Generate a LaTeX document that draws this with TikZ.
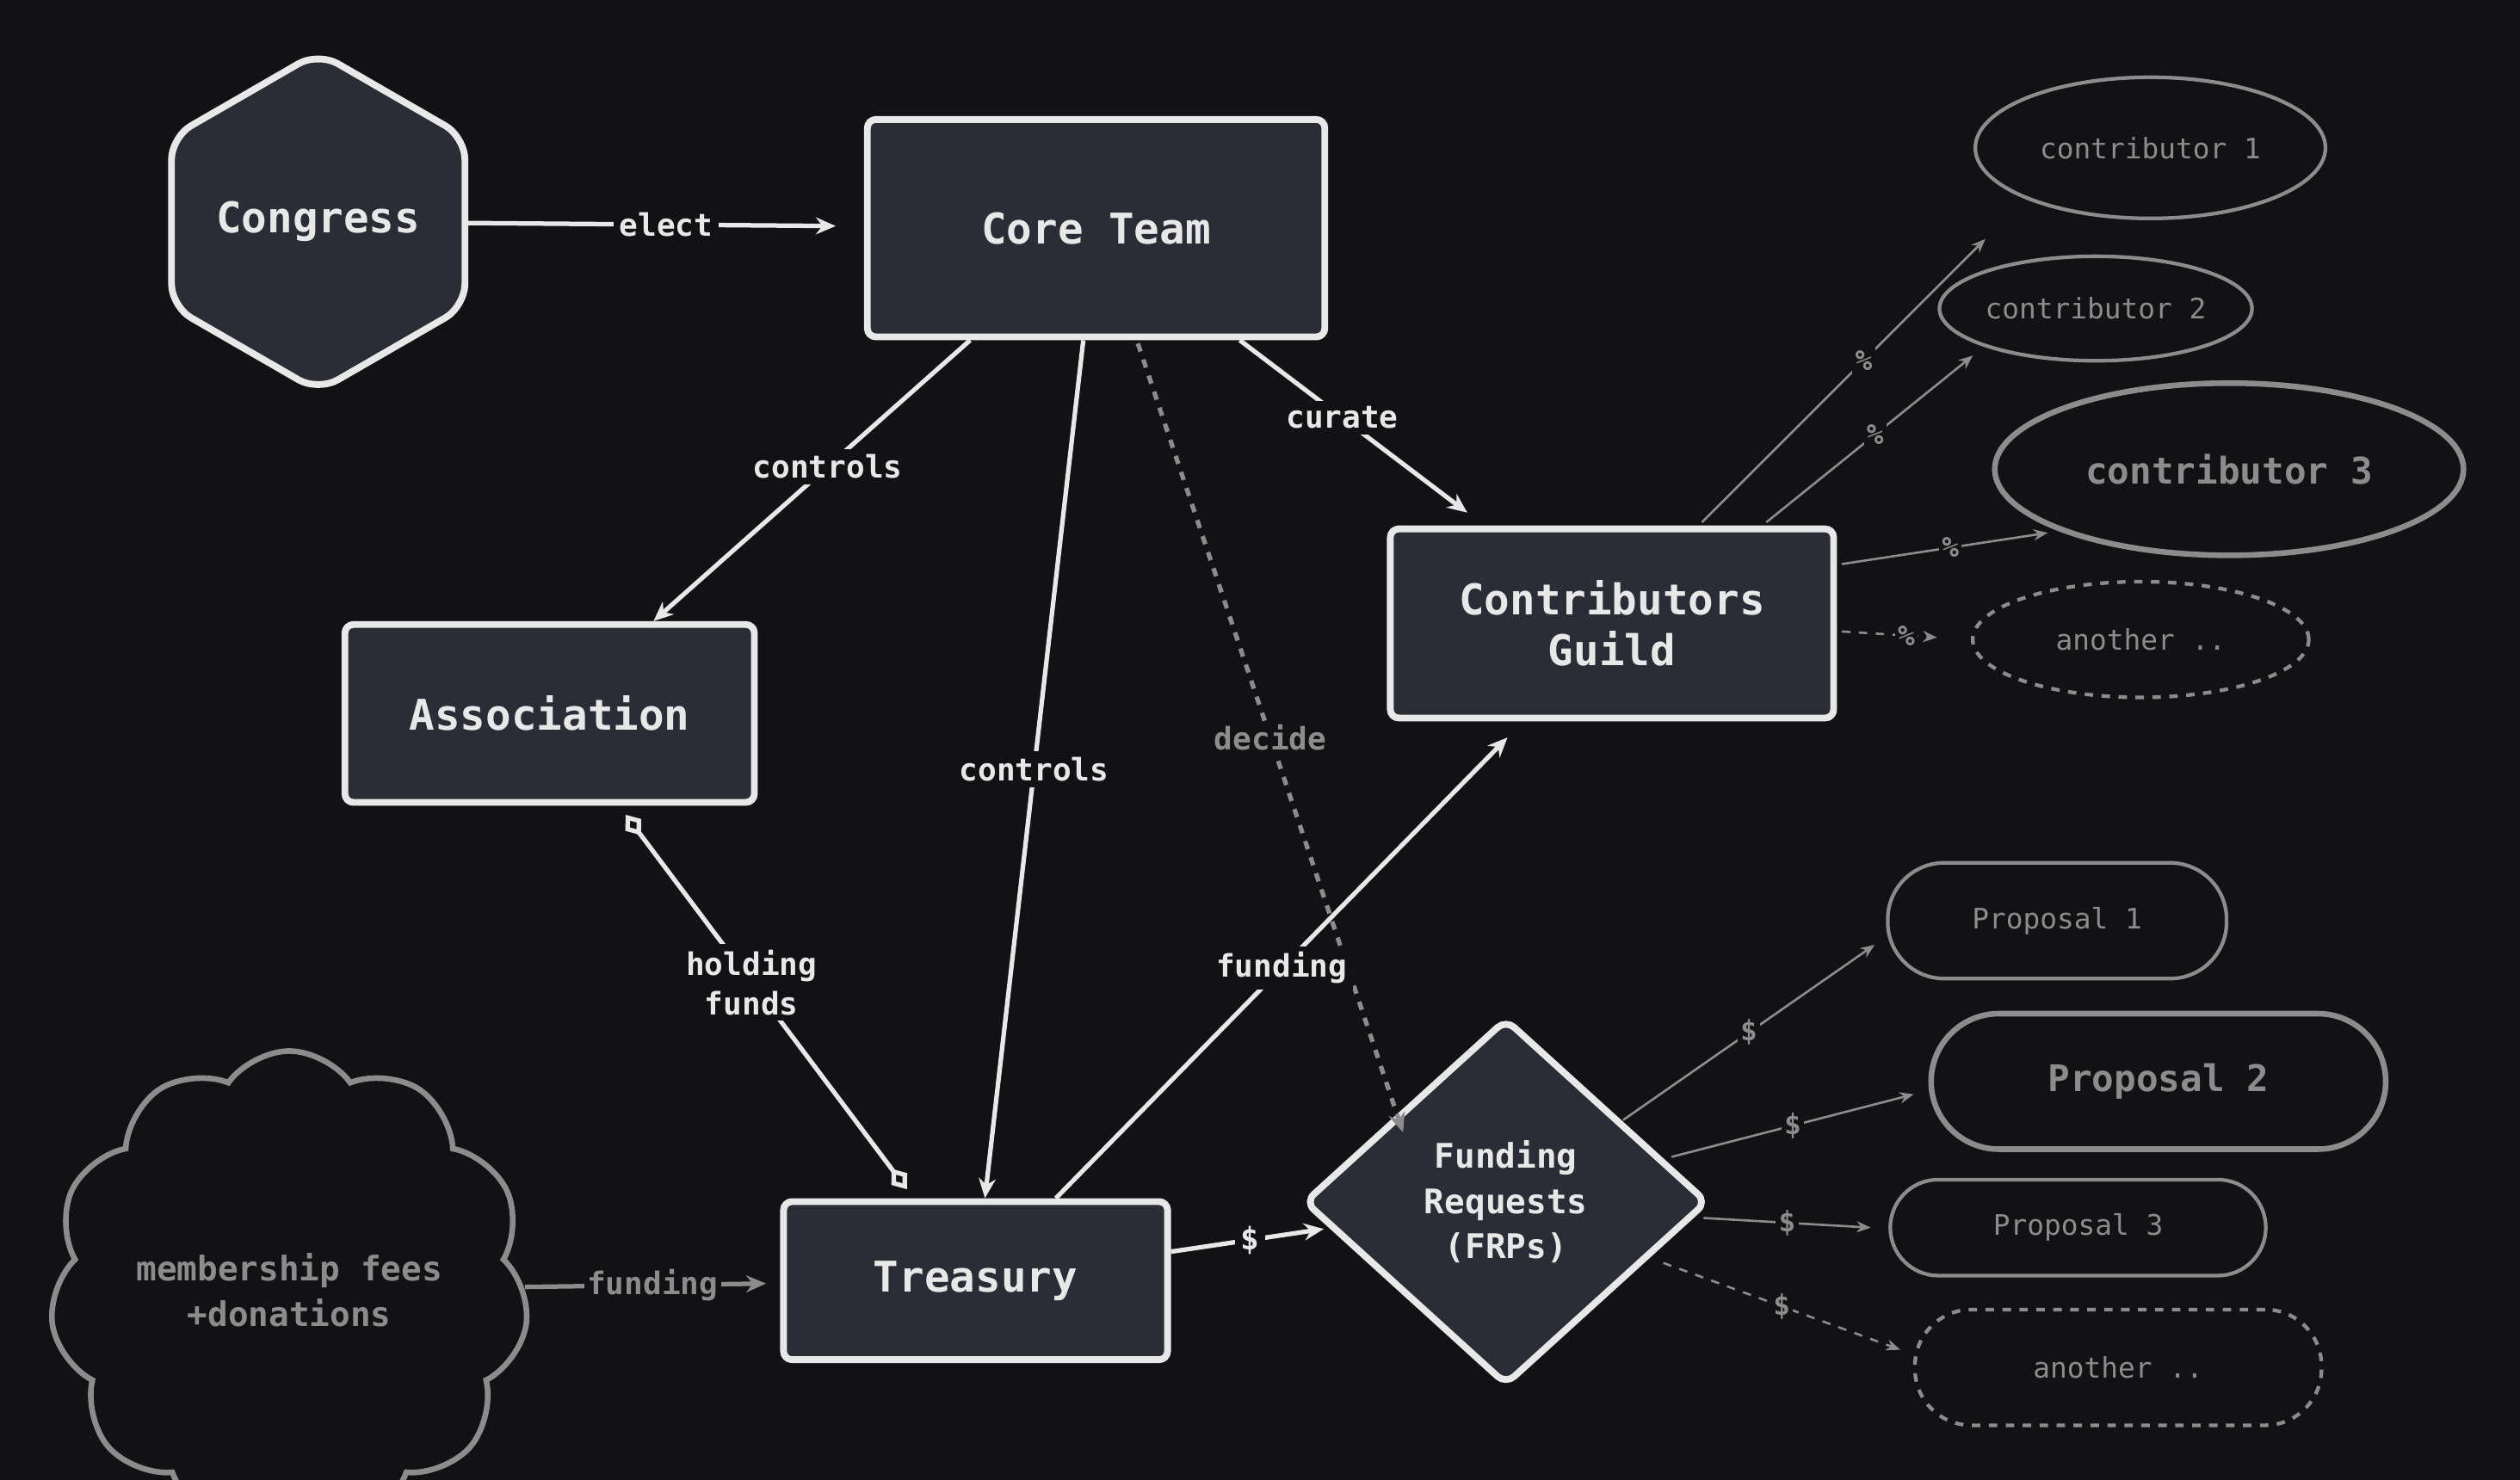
\documentclass[tikz,border=0pt]{standalone}
\usepackage{fontspec}
\setmonofont{DejaVu Sans Mono}
\usetikzlibrary{shapes.geometric,shapes.symbols,arrows.meta,calc}
\definecolor{bg}{HTML}{121215}
\definecolor{box}{HTML}{2B2D36}
\definecolor{ink}{HTML}{E8E8E8}
\definecolor{dim}{HTML}{8C8C8C}
\tikzset{
  main/.style={draw=ink,fill=box,line width=2.4pt,text=ink,font=\ttfamily\fontsize{15}{18}\selectfont\bfseries,align=center},
  side/.style={draw=dim,line width=1.3pt,text=dim,font=\ttfamily\fontsize{10}{12}\selectfont,inner sep=0pt},
  link/.style={draw=ink,line width=1.6pt,-{Stealth[length=7pt,width=6pt]}},
  thin/.style={draw=dim,line width=0.8pt,-{Stealth[length=5pt,width=4pt]}},
  lbl/.style={fill=bg,text=ink,font=\ttfamily\fontsize{11}{14}\selectfont\bfseries,inner sep=2pt,align=center},
  slbl/.style={fill=bg,text=dim,font=\ttfamily\fontsize{10}{12}\selectfont\bfseries,inner sep=1pt},
}
\begin{document}
\begin{tikzpicture}[x=0.02cm,y=-0.02cm]
\fill[bg] (0,0) rectangle (1568,921);
\useasboundingbox (0,0) rectangle (1568,921);

% main nodes
\node[main,regular polygon,regular polygon sides=6,shape border rotate=30,minimum size=120pt,rounded corners=8pt,inner sep=0pt] (congress) at (198,138) {Congress};
\node[main,minimum width=162pt,minimum height=77pt,rounded corners=3pt] (core) at (682,142) {Core Team};
\node[main,minimum width=145pt,minimum height=63pt,rounded corners=3pt] (assoc) at (342,444) {Association};
\node[main,minimum width=157pt,minimum height=67pt,rounded corners=3pt] (guild) at (1003,388) {Contributors\\Guild};
\node[main,minimum width=136pt,minimum height=56pt,rounded corners=3pt] (treasury) at (607,797) {Treasury};
\node[main,diamond,minimum width=143pt,minimum height=130pt,inner sep=0pt,rounded corners=4pt,font=\ttfamily\fontsize{12}{16}\selectfont\bfseries] (frp) at (937,748) {Funding\\Requests\\(FRPs)};
\node[side,cloud,cloud puffs=11,cloud puff arc=110,minimum width=166pt,minimum height=82pt,line width=2pt,font=\ttfamily\fontsize{12}{16}\selectfont\bfseries,align=center] (fees) at (180,803) {membership fees\\+donations};

% contributors
\node[side,ellipse,minimum width=124pt,minimum height=50pt] (c1) at (1338,92) {contributor 1};
\node[side,ellipse,minimum width=105pt,minimum height=37pt] (c2) at (1304,192) {contributor 2};
\node[side,ellipse,minimum width=166pt,minimum height=61pt,line width=2pt,font=\ttfamily\fontsize{13}{16}\selectfont\bfseries] (c3) at (1387,292) {contributor 3};
\node[side,ellipse,dashed,minimum width=119pt,minimum height=41pt] (c4) at (1332,398) {another ..};

% proposals
\node[side,rounded corners=20pt,minimum width=120pt,minimum height=41pt] (p1) at (1280,573) {Proposal 1};
\node[side,rounded corners=24pt,minimum width=161pt,minimum height=48pt,line width=2pt,font=\ttfamily\fontsize{13}{16}\selectfont\bfseries] (p2) at (1343,673) {Proposal 2};
\node[side,rounded corners=17pt,minimum width=133pt,minimum height=34pt] (p3) at (1293,764) {Proposal 3};
\node[side,dashed,rounded corners=20pt,minimum width=144pt,minimum height=41pt] (p4) at (1318,851) {another ..};

% main connectors
\draw[link,shorten >=10pt] (congress) -- node[lbl] {elect} (core);
\draw[link] (core) -- node[lbl,pos=0.45] {controls} (assoc);
\draw[link] (core) -- node[lbl,pos=0.5] {controls} (treasury);
\draw[link,draw=dim,dashed] ($(core.south)+(26,2)$) -- node[slbl,pos=0.5,text=dim,font=\ttfamily\fontsize{11}{14}\selectfont\bfseries] {decide} ($(frp.north)+(-64,73)$);
\draw[link] ($(core.south east)+(-55,0)$) -- node[lbl,pos=0.45] {curate} ($(guild.north west)+(50,-8)$);
\draw[draw=ink,line width=1.6pt,{Diamond[open,length=9pt,width=7pt]}-{Diamond[open,length=9pt,width=7pt]},shorten <=4pt,shorten >=4pt] (assoc) -- node[lbl,pos=0.45] {holding\\funds} (treasury);
\draw[link] ($(treasury.north)+(50,0)$) -- node[lbl,pos=0.5] {funding} ($(guild.south)+(-65,10)$);
\draw[link,shorten >=2pt] (treasury) -- node[lbl] {\$} (frp);
\draw[link,draw=dim,shorten >=5pt] (fees) -- node[slbl,font=\ttfamily\fontsize{11}{14}\selectfont\bfseries] {funding} (treasury);

% shares to contributors
\draw[thin,shorten >=20pt] ($(guild.north east)+(-84,-2)$) -- node[slbl] {\%} (c1.south west);
\draw[thin,shorten >=5pt] ($(guild.north east)+(-44,-2)$) -- node[slbl] {\%} (c2.south west);
\draw[thin,shorten >=4pt] ($(guild.north east)+(3,24)$) -- node[slbl] {\%} (c3.200);
\draw[thin,dashed,shorten >=12pt] ($(guild.east)+(3,5)$) -- node[slbl] {\%} (c4.west);

% funding to proposals
\draw[thin] ($(frp)+(73,-51)$) -- node[slbl] {\$} ($(p1.west)+(-7,15)$);
\draw[thin] ($(frp)+(103,-28)$) -- node[slbl] {\$} ($(p2.west)+(-9,8)$);
\draw[thin] ($(frp)+(123,10)$) -- node[slbl] {\$} ($(p3.west)+(-11,0)$);
\draw[thin,dashed] ($(frp)+(98,38)$) -- node[slbl] {\$} ($(p4.west)+(-8,-11)$);
\end{tikzpicture}
\end{document}
